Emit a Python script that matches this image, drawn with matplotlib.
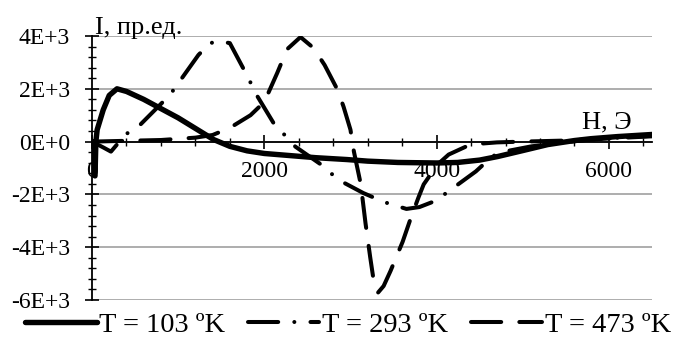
import numpy as np
import matplotlib
matplotlib.use('Agg')
import matplotlib.pyplot as plt
from matplotlib.ticker import MultipleLocator, FuncFormatter

plt.rcParams['font.family'] = ['Liberation Serif', 'DejaVu Serif']

# Field H (Oe) and signal I (arb. units) for three temperatures
h_103 = [0, 15, 35, 45, 60, 130, 200, 290, 400, 600, 800, 1000, 1200, 1410, 1600, 1800, 2000,
         2300, 2600, 2960, 3200, 3550, 4000, 4245, 4500, 4710, 5000, 5290, 5600, 5790, 6100, 6500]
i_103 = [0, -1250, -1300, 0, 450, 1200, 1750, 2000, 1900, 1600, 1250, 900, 500, 80, -180, -350, -450,
         -530, -610, -680, -740, -790, -810, -790, -700, -565, -340, -113, 40, 110, 190, 270]

h_293 = [0, 130, 220, 290, 385, 560, 630, 905, 1235, 1370, 1480, 1600, 1815, 1895, 2105, 2360,
         2690, 2850, 3150, 3400, 3650, 3800, 3990, 4140, 4455, 4650, 4830, 5100, 5400, 5700, 6000, 6500]
i_293 = [0, -220, -380, -110, 260, 640, 870, 1770, 3280, 3730, 3800, 3730, 2410, 1850, 715, -190,
         -940, -1430, -1950, -2300, -2550, -2480, -2240, -1880, -1130, -550, -350, -180, -60, 50, 130, 220]

h_473 = [0, 400, 800, 1200, 1400, 1600, 1840, 2000, 2150, 2265, 2420, 2570, 2700, 2850, 2920, 3000,
         3040, 3120, 3175, 3230, 3280, 3320, 3385, 3465, 3605, 3700, 3790, 3850, 4010, 4140, 4340,
         4500, 4700, 5000, 5500, 6000, 6500]
i_473 = [0, 30, 60, 150, 250, 520, 1000, 1500, 2600, 3500, 3960, 3550, 2900, 1960, 1320, 450,
         -380, -1620, -3100, -4400, -5500, -5720, -5470, -4900, -3800, -2900, -2110, -1620, -870, -490, -190,
         -80, -30, 0, 40, 120, 200]

labels = ['T = 103 ºK', 'T = 293 ºK', 'T = 473 ºK']

fig = plt.figure(figsize=(6.83, 3.38), dpi=100)
ax = fig.add_axes([92/683, 1-300/338, 560/683, 264/338])

ax.plot(h_103, i_103, color='black', lw=3.9, solid_capstyle='round', zorder=3, label=labels[0])
ax.plot(h_293, i_293, color='black', lw=2.9, dashes=(7.5, 4, 0.01, 4), dash_capstyle='round',
        zorder=3, label=labels[1])
ax.plot(h_473, i_473, color='black', lw=2.9, dashes=(7.5, 4.5), dash_capstyle='round',
        zorder=3, label=labels[2])

ax.set_xlim(0, 6500)
ax.set_ylim(-6000, 4000)

# x axis crosses at zero, y axis on the left
for s in ['top', 'right']:
    ax.spines[s].set_visible(False)
ax.spines['bottom'].set_position(('data', 0))
ax.spines['bottom'].set_linewidth(1.3)
ax.spines['left'].set_linewidth(1.3)
ax.spines['bottom'].set_zorder(2.6)

ax.xaxis.set_major_locator(MultipleLocator(2000))
ax.xaxis.set_minor_locator(MultipleLocator(400))
ax.yaxis.set_major_locator(MultipleLocator(2000))
ax.yaxis.set_minor_locator(MultipleLocator(400))

def sci(v, pos):
    if v == 0:
        return '0E+0'
    e = int(np.floor(np.log10(abs(v))))
    return '%dE+%d' % (round(v / 10**e), e)

ax.yaxis.set_major_formatter(FuncFormatter(sci))
ax.xaxis.set_major_formatter(FuncFormatter(lambda v, p: '%d' % v))

ax.tick_params(axis='x', which='major', direction='inout', length=10, width=1.2, labelsize=17, pad=9)
ax.tick_params(axis='x', which='minor', direction='inout', length=6, width=1.0)
ax.tick_params(axis='y', which='major', direction='inout', length=10, width=1.2, labelsize=17, pad=11)
ax.tick_params(axis='y', which='minor', direction='inout', length=6, width=1.0)

ax.grid(axis='y', which='major', color='#a0a0a0', lw=1.2)
ax.set_axisbelow(True)

fig.text(95/683, 1-28/338, 'I, пр.ед.', fontsize=19, va='center', ha='left')
fig.text(582/683, 1-122/338, 'H, Э', fontsize=19, va='center', ha='left')

fig.legend(loc='center', bbox_to_anchor=(0.51, 13/338), ncol=3, frameon=False, fontsize=20.5,
           handlelength=2.5, handletextpad=0.1, columnspacing=0.8, borderpad=0, borderaxespad=0)

fig.savefig('out.png', dpi=100)
